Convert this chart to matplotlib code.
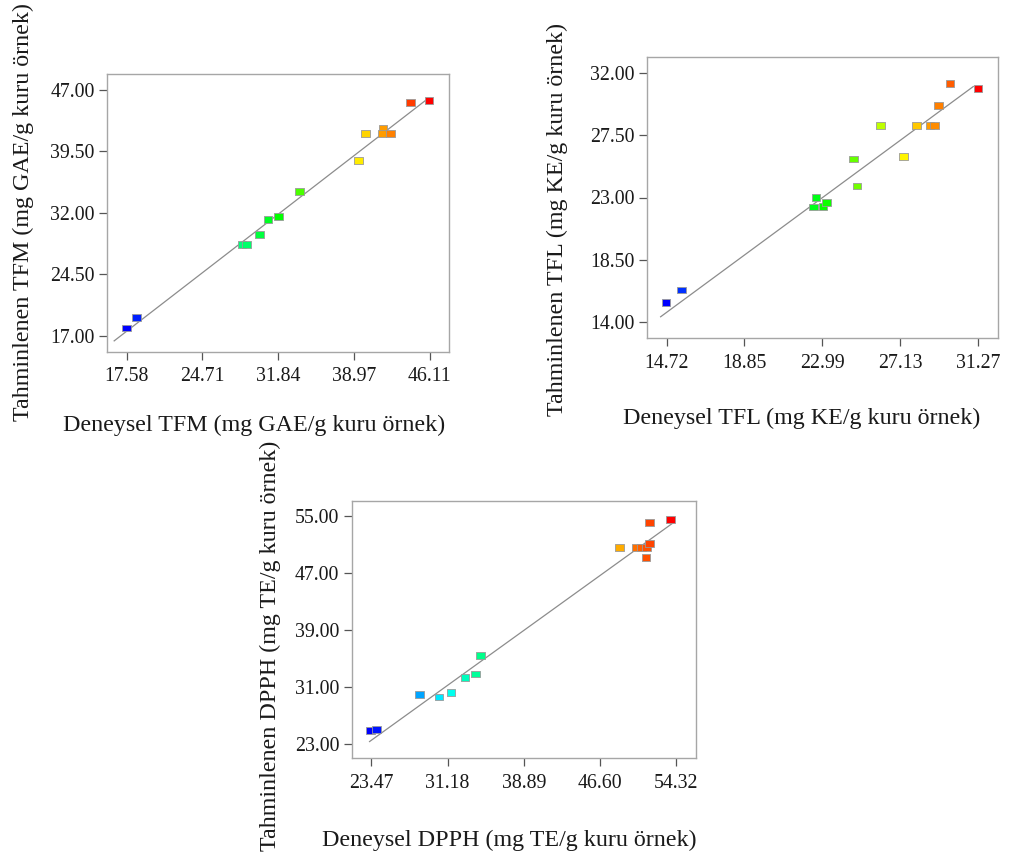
import numpy as np
import matplotlib
matplotlib.use("Agg")
import matplotlib.pyplot as plt
from matplotlib.colors import LinearSegmentedColormap

plt.rcParams['font.family'] = ['Liberation Serif', 'DejaVu Serif']

# ---------------- data ----------------
# Panel 1: TFM
tfm_actual = [17.58, 18.52, 28.43, 28.87, 30.09, 30.87, 31.87, 33.84,
              39.41, 40.07, 41.69, 41.62, 42.41, 44.31, 46.03]
tfm_pred = [17.96, 19.27, 28.16, 28.12, 29.41, 31.24, 31.60, 34.65,
            38.43, 41.71, 42.25, 41.71, 41.71, 45.49, 45.70]
tfm_ticks_x = [17.58, 24.71, 31.84, 38.97, 46.11]
tfm_ticks_y = [17.00, 24.50, 32.00, 39.50, 47.00]
tfm_line = [16.4, 45.8]

# Panel 2: TFL
tfl_actual = [14.68, 15.52, 22.53, 22.64, 23.03, 23.22, 24.64, 24.82,
              26.07, 27.29, 28.00, 28.71, 28.94, 29.15, 29.76, 31.25]
tfl_pred = [15.40, 16.33, 22.32, 23.01, 22.37, 22.63, 25.78, 23.83,
            28.21, 25.97, 28.21, 28.21, 28.21, 29.65, 31.24, 30.88]
tfl_ticks_x = [14.72, 18.85, 22.99, 27.13, 31.27]
tfl_ticks_y = [14.00, 18.50, 23.00, 27.50, 32.00]
tfl_line = [14.4, 31.0]

# Panel 3: DPPH
dpph_actual = [23.40, 24.00, 28.32, 30.30, 31.51, 32.93, 34.00, 34.51,
               48.58, 50.27, 50.77, 51.31, 51.25, 51.61, 51.61, 53.70]
dpph_pred = [24.88, 24.97, 29.93, 29.55, 30.16, 32.32, 32.78, 35.35,
             50.51, 50.51, 50.51, 50.51, 49.16, 51.13, 53.98, 54.44]
dpph_ticks_x = [23.47, 31.18, 38.89, 46.60, 54.32]
dpph_ticks_y = [23.00, 31.00, 39.00, 47.00, 55.00]
dpph_line = [23.3, 54.0]

xlabels = ["Deneysel TFM (mg GAE/g kuru örnek)",
           "Deneysel TFL (mg KE/g kuru örnek)",
           "Deneysel DPPH (mg TE/g kuru örnek)"]
ylabels = ["Tahminlenen TFM (mg GAE/g kuru örnek)",
           "Tahminlenen TFL (mg KE/g kuru örnek)",
           "Tahminlenen DPPH (mg TE/g kuru örnek)"]

# ---------------- style ----------------
W, H = 1012, 857
fig = plt.figure(figsize=(W / 100, H / 100), dpi=100)

cmap = LinearSegmentedColormap.from_list(
    "de", ["#0000ff", "#00ffff", "#00ff00", "#ffff00", "#ff0000"])

rect_marker = [(-1.25, -1), (1.25, -1), (1.25, 1), (-1.25, 1), (-1.25, -1)]

# axes frames in pixel coords (left, top, right, bottom)
frames = [(107.3, 74.0, 449.3, 351.7),
          (646.7, 56.7, 998.3, 338.3),
          (351.7, 501.0, 696.0, 758.3)]
# label centers in pixels: (xlabel_x, xlabel_y, ylabel_x, ylabel_y)
label_pos = [(254, 425, 23, 212),
             (802, 418, 557, 220),
             (509, 840, 270, 646)]

panels = [
    (tfm_actual, tfm_pred, tfm_ticks_x, tfm_ticks_y, tfm_line),
    (tfl_actual, tfl_pred, tfl_ticks_x, tfl_ticks_y, tfl_line),
    (dpph_actual, dpph_pred, dpph_ticks_x, dpph_ticks_y, dpph_line),
]

frame_col = "#a6a6a6"
tick_col = "#555555"
text_col = "#1a1a1a"

for i, (xa, yp, tx, ty, ln) in enumerate(panels):
    l, t, r, b = frames[i]
    ax = fig.add_axes([l / W, 1 - b / H, (r - l) / W, (b - t) / H])
    xa = np.array(xa)
    yp = np.array(yp)
    padx = 0.064 * (tx[-1] - tx[0])
    pady = 0.064 * (ty[-1] - ty[0])
    ax.set_xlim(tx[0] - padx, tx[-1] + padx)
    ax.set_ylim(ty[0] - pady, ty[-1] + pady)

    ax.plot(ln, ln, color="#8c8c8c", lw=0.9, zorder=2)

    norm = (xa - xa.min()) / (xa.max() - xa.min())
    ax.scatter(xa, yp, c=cmap(norm), marker=rect_marker, s=38,
               edgecolors="#9a9a9a", linewidths=0.6, zorder=3)

    ax.set_xticks(tx)
    ax.set_yticks(ty)
    ax.set_xticklabels([f"{v:.2f}" for v in tx])
    ax.set_yticklabels([f"{v:.2f}" for v in ty])
    ax.tick_params(axis="both", direction="out", length=6, width=0.9,
                   color=tick_col, labelsize=14.3, labelcolor=text_col)
    ax.tick_params(axis="x", pad=5)
    ax.tick_params(axis="y", pad=3)
    for sp in ax.spines.values():
        sp.set_color(frame_col)
        sp.set_linewidth(1.0)

    xlx, xly, ylx, yly = label_pos[i]
    fig.text(xlx / W, 1 - xly / H, xlabels[i], ha="center", va="center",
             fontsize=17.3, color=text_col)
    fig.text(ylx / W, 1 - yly / H, ylabels[i], ha="center", va="center",
             rotation=90, fontsize=17.3, color=text_col)

fig.savefig("out.png", dpi=100, facecolor="white")
